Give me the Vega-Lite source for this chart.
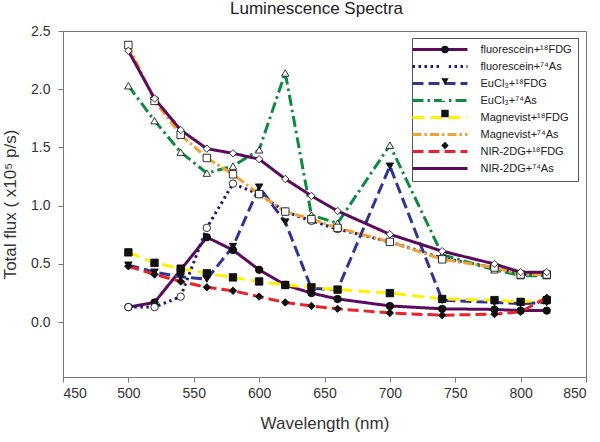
{
  "$schema": "https://vega.github.io/schema/vega-lite/v6.json",
  "autosize": {"type": "none"},
  "width": 523,
  "height": 346,
  "padding": {"left": 63, "top": 31, "right": 14, "bottom": 65},
  "title": {"text": "Luminescence Spectra", "fontSize": 17, "fontWeight": "normal", "font": "Liberation Sans", "color": "#222", "anchor": "middle", "dx": -8, "offset": 6},
  "config": {
    "view": {"stroke": "#777", "strokeWidth": 1},
    "legend": {"symbolStrokeColor": "#000"},
    "axis": {"grid": false, "domainColor": "#777", "tickColor": "#777", "labelColor": "#333", "titleColor": "#333", "labelFont": "Liberation Sans", "titleFont": "Liberation Sans", "labelFontSize": 14, "titleFontSize": 17, "titleFontWeight": "normal", "tickSize": 5}
  },
  "data": {"values": [
    {"s": "fluorescein+¹⁸FDG", "x": 500, "y": 0.13}, {"s": "fluorescein+¹⁸FDG", "x": 520, "y": 0.17}, {"s": "fluorescein+¹⁸FDG", "x": 540, "y": 0.45}, {"s": "fluorescein+¹⁸FDG", "x": 560, "y": 0.73}, {"s": "fluorescein+¹⁸FDG", "x": 580, "y": 0.62}, {"s": "fluorescein+¹⁸FDG", "x": 600, "y": 0.45}, {"s": "fluorescein+¹⁸FDG", "x": 620, "y": 0.32}, {"s": "fluorescein+¹⁸FDG", "x": 640, "y": 0.25}, {"s": "fluorescein+¹⁸FDG", "x": 660, "y": 0.20}, {"s": "fluorescein+¹⁸FDG", "x": 700, "y": 0.14}, {"s": "fluorescein+¹⁸FDG", "x": 740, "y": 0.115}, {"s": "fluorescein+¹⁸FDG", "x": 780, "y": 0.11}, {"s": "fluorescein+¹⁸FDG", "x": 800, "y": 0.10}, {"s": "fluorescein+¹⁸FDG", "x": 820, "y": 0.10},
    {"s": "fluorescein+⁷⁴As", "x": 500, "y": 0.13}, {"s": "fluorescein+⁷⁴As", "x": 520, "y": 0.13}, {"s": "fluorescein+⁷⁴As", "x": 540, "y": 0.22}, {"s": "fluorescein+⁷⁴As", "x": 560, "y": 0.81}, {"s": "fluorescein+⁷⁴As", "x": 580, "y": 1.19}, {"s": "fluorescein+⁷⁴As", "x": 600, "y": 1.10}, {"s": "fluorescein+⁷⁴As", "x": 620, "y": 0.95}, {"s": "fluorescein+⁷⁴As", "x": 640, "y": 0.87}, {"s": "fluorescein+⁷⁴As", "x": 660, "y": 0.80}, {"s": "fluorescein+⁷⁴As", "x": 700, "y": 0.69}, {"s": "fluorescein+⁷⁴As", "x": 740, "y": 0.55}, {"s": "fluorescein+⁷⁴As", "x": 780, "y": 0.47}, {"s": "fluorescein+⁷⁴As", "x": 800, "y": 0.41}, {"s": "fluorescein+⁷⁴As", "x": 820, "y": 0.41},
    {"s": "EuCl₃+¹⁸FDG", "x": 500, "y": 0.49}, {"s": "EuCl₃+¹⁸FDG", "x": 520, "y": 0.43}, {"s": "EuCl₃+¹⁸FDG", "x": 540, "y": 0.39}, {"s": "EuCl₃+¹⁸FDG", "x": 560, "y": 0.37}, {"s": "EuCl₃+¹⁸FDG", "x": 580, "y": 0.65}, {"s": "EuCl₃+¹⁸FDG", "x": 600, "y": 1.16}, {"s": "EuCl₃+¹⁸FDG", "x": 620, "y": 0.86}, {"s": "EuCl₃+¹⁸FDG", "x": 640, "y": 0.29}, {"s": "EuCl₃+¹⁸FDG", "x": 660, "y": 0.28}, {"s": "EuCl₃+¹⁸FDG", "x": 700, "y": 1.34}, {"s": "EuCl₃+¹⁸FDG", "x": 740, "y": 0.19}, {"s": "EuCl₃+¹⁸FDG", "x": 780, "y": 0.17}, {"s": "EuCl₃+¹⁸FDG", "x": 800, "y": 0.16}, {"s": "EuCl₃+¹⁸FDG", "x": 820, "y": 0.17},
    {"s": "EuCl₃+⁷⁴As", "x": 500, "y": 2.03}, {"s": "EuCl₃+⁷⁴As", "x": 520, "y": 1.73}, {"s": "EuCl₃+⁷⁴As", "x": 540, "y": 1.46}, {"s": "EuCl₃+⁷⁴As", "x": 560, "y": 1.28}, {"s": "EuCl₃+⁷⁴As", "x": 580, "y": 1.34}, {"s": "EuCl₃+⁷⁴As", "x": 600, "y": 1.48}, {"s": "EuCl₃+⁷⁴As", "x": 620, "y": 2.14}, {"s": "EuCl₃+⁷⁴As", "x": 640, "y": 0.92}, {"s": "EuCl₃+⁷⁴As", "x": 660, "y": 0.85}, {"s": "EuCl₃+⁷⁴As", "x": 700, "y": 1.52}, {"s": "EuCl₃+⁷⁴As", "x": 740, "y": 0.58}, {"s": "EuCl₃+⁷⁴As", "x": 780, "y": 0.45}, {"s": "EuCl₃+⁷⁴As", "x": 800, "y": 0.40}, {"s": "EuCl₃+⁷⁴As", "x": 820, "y": 0.40},
    {"s": "Magnevist+¹⁸FDG", "x": 500, "y": 0.60}, {"s": "Magnevist+¹⁸FDG", "x": 520, "y": 0.51}, {"s": "Magnevist+¹⁸FDG", "x": 540, "y": 0.46}, {"s": "Magnevist+¹⁸FDG", "x": 560, "y": 0.42}, {"s": "Magnevist+¹⁸FDG", "x": 580, "y": 0.385}, {"s": "Magnevist+¹⁸FDG", "x": 600, "y": 0.35}, {"s": "Magnevist+¹⁸FDG", "x": 620, "y": 0.32}, {"s": "Magnevist+¹⁸FDG", "x": 640, "y": 0.30}, {"s": "Magnevist+¹⁸FDG", "x": 660, "y": 0.28}, {"s": "Magnevist+¹⁸FDG", "x": 700, "y": 0.25}, {"s": "Magnevist+¹⁸FDG", "x": 740, "y": 0.20}, {"s": "Magnevist+¹⁸FDG", "x": 780, "y": 0.19}, {"s": "Magnevist+¹⁸FDG", "x": 800, "y": 0.175}, {"s": "Magnevist+¹⁸FDG", "x": 820, "y": 0.19},
    {"s": "Magnevist+⁷⁴As", "x": 500, "y": 2.38}, {"s": "Magnevist+⁷⁴As", "x": 520, "y": 1.90}, {"s": "Magnevist+⁷⁴As", "x": 540, "y": 1.61}, {"s": "Magnevist+⁷⁴As", "x": 560, "y": 1.41}, {"s": "Magnevist+⁷⁴As", "x": 580, "y": 1.27}, {"s": "Magnevist+⁷⁴As", "x": 600, "y": 1.10}, {"s": "Magnevist+⁷⁴As", "x": 620, "y": 0.95}, {"s": "Magnevist+⁷⁴As", "x": 640, "y": 0.885}, {"s": "Magnevist+⁷⁴As", "x": 660, "y": 0.81}, {"s": "Magnevist+⁷⁴As", "x": 700, "y": 0.69}, {"s": "Magnevist+⁷⁴As", "x": 740, "y": 0.54}, {"s": "Magnevist+⁷⁴As", "x": 780, "y": 0.47}, {"s": "Magnevist+⁷⁴As", "x": 800, "y": 0.41}, {"s": "Magnevist+⁷⁴As", "x": 820, "y": 0.41},
    {"s": "NIR-2DG+¹⁸FDG", "x": 500, "y": 0.48}, {"s": "NIR-2DG+¹⁸FDG", "x": 520, "y": 0.41}, {"s": "NIR-2DG+¹⁸FDG", "x": 540, "y": 0.35}, {"s": "NIR-2DG+¹⁸FDG", "x": 560, "y": 0.30}, {"s": "NIR-2DG+¹⁸FDG", "x": 580, "y": 0.27}, {"s": "NIR-2DG+¹⁸FDG", "x": 600, "y": 0.22}, {"s": "NIR-2DG+¹⁸FDG", "x": 620, "y": 0.17}, {"s": "NIR-2DG+¹⁸FDG", "x": 640, "y": 0.14}, {"s": "NIR-2DG+¹⁸FDG", "x": 660, "y": 0.115}, {"s": "NIR-2DG+¹⁸FDG", "x": 700, "y": 0.08}, {"s": "NIR-2DG+¹⁸FDG", "x": 740, "y": 0.06}, {"s": "NIR-2DG+¹⁸FDG", "x": 780, "y": 0.07}, {"s": "NIR-2DG+¹⁸FDG", "x": 800, "y": 0.09}, {"s": "NIR-2DG+¹⁸FDG", "x": 820, "y": 0.21},
    {"s": "NIR-2DG+⁷⁴As", "x": 500, "y": 2.33}, {"s": "NIR-2DG+⁷⁴As", "x": 520, "y": 1.92}, {"s": "NIR-2DG+⁷⁴As", "x": 540, "y": 1.65}, {"s": "NIR-2DG+⁷⁴As", "x": 560, "y": 1.49}, {"s": "NIR-2DG+⁷⁴As", "x": 580, "y": 1.45}, {"s": "NIR-2DG+⁷⁴As", "x": 600, "y": 1.40}, {"s": "NIR-2DG+⁷⁴As", "x": 620, "y": 1.23}, {"s": "NIR-2DG+⁷⁴As", "x": 640, "y": 1.085}, {"s": "NIR-2DG+⁷⁴As", "x": 660, "y": 0.955}, {"s": "NIR-2DG+⁷⁴As", "x": 700, "y": 0.755}, {"s": "NIR-2DG+⁷⁴As", "x": 740, "y": 0.61}, {"s": "NIR-2DG+⁷⁴As", "x": 780, "y": 0.50}, {"s": "NIR-2DG+⁷⁴As", "x": 800, "y": 0.43}, {"s": "NIR-2DG+⁷⁴As", "x": 820, "y": 0.43}
  ]},
  "encoding": {
    "x": {"field": "x", "type": "quantitative", "scale": {"domain": [450, 850], "nice": false, "zero": false}, "axis": {"values": [450, 500, 550, 600, 650, 700, 750, 800, 850], "title": "Wavelength (nm)", "labelPadding": 4, "titlePadding": 15}},
    "y": {"field": "y", "type": "quantitative", "scale": {"domain": [-0.47, 2.5], "nice": false, "zero": false}, "axis": {"values": [0, 0.5, 1, 1.5, 2, 2.5], "format": ".1f", "title": "Total flux ( x10⁵ p/s)", "labelPadding": 8, "titlePadding": 11}}
  },
  "layer": [
    {
      "mark": {"type": "line", "strokeWidth": 3},
      "encoding": {
        "color": {"field": "s", "type": "nominal",
          "scale": {"domain": ["fluorescein+¹⁸FDG", "fluorescein+⁷⁴As", "EuCl₃+¹⁸FDG", "EuCl₃+⁷⁴As", "Magnevist+¹⁸FDG", "Magnevist+⁷⁴As", "NIR-2DG+¹⁸FDG", "NIR-2DG+⁷⁴As"],
                    "range": ["#5b0a5e", "#1b1b72", "#2e3592", "#0d8a3f", "#fff200", "#f5a033", "#e8232a", "#5b0a5e"]},
          "legend": {"title": null, "orient": "none", "legendX": 349, "legendY": 7, "padding": 6, "strokeColor": "#555", "symbolType": "M -7.857 0 L 7.857 0", "symbolSize": 49, "symbolStrokeWidth": 3, "symbolOffset": 16.5, "labelFont": "Liberation Sans", "labelFontSize": 11, "labelColor": "#222", "labelOffset": 35, "rowPadding": 4, "zindex": 1}},
        "strokeDash": {"field": "s", "type": "nominal",
          "scale": {"domain": ["fluorescein+¹⁸FDG", "fluorescein+⁷⁴As", "EuCl₃+¹⁸FDG", "EuCl₃+⁷⁴As", "Magnevist+¹⁸FDG", "Magnevist+⁷⁴As", "NIR-2DG+¹⁸FDG", "NIR-2DG+⁷⁴As"],
                    "range": [[1, 0], [2.5, 3.5], [11, 5], [11, 4, 2.5, 4], [12, 6], [9, 3, 2.5, 3], [11, 5], [1, 0]]},
          "legend": {"title": null, "orient": "none", "legendX": 349, "legendY": 7, "zindex": 1}}
      }
    },
    {
      "mark": {"type": "point", "filled": true, "size": 55, "stroke": "black", "strokeWidth": 0.8, "opacity": 1},
      "encoding": {
        "shape": {"field": "s", "type": "nominal", "sort": null,
          "scale": {"range": ["circle", "circle", "triangle-down", "triangle-up", "square", "square", "diamond", "diamond"]},
          "legend": {"title": null, "orient": "none", "legendX": 349, "legendY": 7, "padding": 6, "symbolSize": 55, "symbolStrokeColor": "black", "symbolStrokeWidth": 0.8, "symbolOffset": 21.5, "labelFont": "Liberation Sans", "labelFontSize": 11, "labelColor": "transparent", "labelOffset": 56, "rowPadding": 4, "zindex": 2,
            "encode": {"symbols": {"stroke": {"value": "#000"}, "strokeWidth": {"value": 0.8}, "strokeOpacity": {"value": 1}}}}},
        "fill": {"field": "s", "type": "nominal", "sort": null,
          "scale": {"range": ["#111", "#ffffff", "#111", "#ffffff", "#111", "#ffffff", "#111", "#ffffff"]},
          "legend": {"title": null, "orient": "none", "legendX": 349, "legendY": 7, "padding": 6, "symbolSize": 55, "symbolStrokeColor": "black", "symbolStrokeWidth": 0.8, "symbolOffset": 21.5, "labelFont": "Liberation Sans", "labelFontSize": 11, "labelColor": "transparent", "labelOffset": 56, "rowPadding": 4, "zindex": 2,
            "encode": {"symbols": {"stroke": {"value": "#000"}, "strokeWidth": {"value": 0.8}, "strokeOpacity": {"value": 1}}}}}
      }
    }
  ]
}
